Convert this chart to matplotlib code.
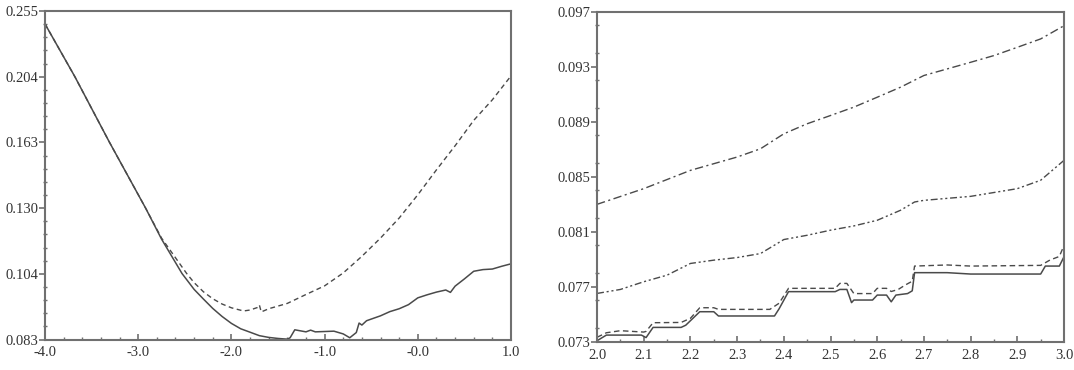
#!/usr/bin/env python3
"""Two-panel line chart: log-scaled error curve (left) and step curves (right)."""
import numpy as np
import matplotlib
matplotlib.use("Agg")
import matplotlib.pyplot as plt
from matplotlib.ticker import FixedLocator, MultipleLocator

plt.rcParams["font.family"] = ["Liberation Serif", "DejaVu Serif"]

# ── Left panel data ─────────────────────────────────────────────────────
left_solid_x = [-4.0, -3.68, -3.31, -2.92, -2.75, -2.53, -2.4, -2.3, -2.2, -2.1, -2.0,
                -1.9, -1.8, -1.7, -1.6, -1.5, -1.4, -1.37, -1.32, -1.2, -1.15, -1.1, -1.0,
                -0.9, -0.8, -0.73, -0.66, -0.63, -0.6, -0.55, -0.5, -0.4, -0.3, -0.2,
                -0.1, 0.0, 0.1, 0.2, 0.3, 0.35, 0.4, 0.5, 0.6, 0.7, 0.8, 0.9, 1.0]
left_solid_y = [0.2440, 0.2038, 0.1630, 0.1300, 0.1170, 0.1040, 0.0985, 0.0953, 0.0923,
                0.0898, 0.0877, 0.0861, 0.0851, 0.0841, 0.0836, 0.0833, 0.0831, 0.0835,
                0.0858, 0.0852, 0.0857, 0.0852, 0.0853, 0.0854, 0.0846, 0.0835, 0.0850,
                0.0878, 0.0872, 0.0885, 0.0890, 0.0900, 0.0913, 0.0922, 0.0935, 0.0957,
                0.0967, 0.0976, 0.0983, 0.0975, 0.0996, 0.1021, 0.1048, 0.1054, 0.1056,
                0.1066, 0.1075]

left_dash_x = [-4.0, -3.68, -3.31, -2.92, -2.75, -2.48, -2.4, -2.3, -2.2, -2.1, -2.0,
               -1.87, -1.8, -1.72, -1.70, -1.68, -1.6, -1.4, -1.2, -1.0, -0.8,
               -0.6, -0.4, -0.2, 0.0, 0.2, 0.4, 0.6, 0.8, 1.0]
left_dash_y = [0.2440, 0.2038, 0.1630, 0.1300, 0.1174, 0.1040, 0.1008, 0.0977, 0.0954,
               0.0937, 0.0925, 0.0915, 0.0918, 0.0926, 0.0934, 0.0912, 0.0922, 0.0939,
               0.0968, 0.0997, 0.1042, 0.1103, 0.1174, 0.1257, 0.1361, 0.1482, 0.1609,
               0.1755, 0.1883, 0.2043]

left_xticks = [-4.0, -3.0, -2.0, -1.0, 0.0, 1.0]
left_xlabels = ["-4.0", "-3.0", "-2.0", "-1.0", "-0.0", "1.0"]
left_ylabels = ["0.083", "0.104", "0.130", "0.163", "0.204", "0.255"]

# ── Right panel data ────────────────────────────────────────────────────
r_top_x = [2.0, 2.1, 2.2, 2.3, 2.35, 2.4, 2.45, 2.5, 2.55, 2.6, 2.65, 2.7, 2.75, 2.8,
           2.85, 2.9, 2.95, 3.0]
r_top_y = [0.08299, 0.08413, 0.08546, 0.08643, 0.08703, 0.08812, 0.08885, 0.08945,
           0.09006, 0.09078, 0.09151, 0.09236, 0.09284, 0.09332, 0.09381, 0.09441,
           0.09502, 0.09598]

r_mid_x = [2.0, 2.05, 2.1, 2.15, 2.2, 2.25, 2.3, 2.35, 2.4, 2.45, 2.5, 2.55, 2.6, 2.65,
           2.68, 2.7, 2.8, 2.9, 2.95, 3.0]
r_mid_y = [0.07651, 0.07680, 0.07736, 0.07784, 0.07869, 0.07893, 0.07912, 0.07941,
           0.08043, 0.08074, 0.08111, 0.08142, 0.08183, 0.08256, 0.08316, 0.08328,
           0.08357, 0.08413, 0.08474, 0.08619]

r_dash_x = [2.0, 2.02, 2.05, 2.1, 2.105, 2.12, 2.18, 2.2, 2.22, 2.25, 2.26, 2.37, 2.39,
            2.41, 2.51, 2.52, 2.535, 2.55, 2.59, 2.6, 2.62, 2.63, 2.645, 2.66, 2.675,
            2.68, 2.75, 2.8, 2.95, 2.97, 2.99, 3.0]
r_dash_y = [0.07332, 0.07365, 0.07380, 0.07370, 0.07375, 0.07438, 0.07440, 0.07470,
            0.07547, 0.07547, 0.07535, 0.07535, 0.07580, 0.07688, 0.07688, 0.07724,
            0.07724, 0.07650, 0.07650, 0.07688, 0.07688, 0.07665, 0.07680, 0.07712,
            0.07740, 0.07850, 0.07858, 0.07850, 0.07855, 0.07894, 0.07920, 0.08000]

r_solid_x = [2.0, 2.02, 2.095, 2.105, 2.12, 2.18, 2.19, 2.22, 2.25, 2.26, 2.38, 2.39,
             2.41, 2.51, 2.52, 2.535, 2.545, 2.55, 2.59, 2.6, 2.62, 2.63, 2.64, 2.665,
             2.675, 2.68, 2.75, 2.8, 2.95, 2.96, 2.99, 3.0]
r_solid_y = [0.07307, 0.07348, 0.07348, 0.07330, 0.07404, 0.07404, 0.07420, 0.07518,
             0.07518, 0.07487, 0.07487, 0.07540, 0.07664, 0.07664, 0.07680, 0.07680,
             0.07584, 0.07603, 0.07603, 0.07639, 0.07639, 0.07590, 0.07639, 0.07650,
             0.07670, 0.07802, 0.07802, 0.07792, 0.07792, 0.07850, 0.07850, 0.07918]

right_xticks = [2.0, 2.1, 2.2, 2.3, 2.4, 2.5, 2.6, 2.7, 2.8, 2.9, 3.0]
right_yticks = [0.073, 0.077, 0.081, 0.085, 0.089, 0.093, 0.097]

LINE = "#4a4a4a"
SPINE = "#707070"
TEXT = "#333333"
FS = 10.5


def style_axes(ax):
    for sp in ax.spines.values():
        sp.set_color(SPINE)
        sp.set_linewidth(1.5)
    ax.tick_params(axis="x", which="major", direction="in", length=4, width=1.2,
                   color=SPINE, labelsize=FS, labelcolor=TEXT, pad=5)
    ax.tick_params(axis="x", which="minor", direction="in", length=2.5, width=1.0, color=SPINE)
    ax.tick_params(axis="y", which="major", direction="out", length=4, width=1.2,
                   color=SPINE, labelsize=FS, labelcolor=TEXT, pad=1)
    ax.tick_params(axis="y", which="minor", direction="inout", length=2.5, width=1.0, color=SPINE)
    ax.tick_params(top=False, right=False, which="both")


fig = plt.figure(figsize=(10.74, 3.70), dpi=100)

# ── Left ────────────────────────────────────────────────────────────────
ax1 = fig.add_axes([0.0419, 0.0824, 0.4339, 0.8878])
ax1.plot(left_dash_x, left_dash_y, color=LINE, lw=1.0, ls=(0, (3.5, 2.5)))
ax1.plot(left_solid_x, left_solid_y, color=LINE, lw=1.1)
ax1.set_yscale("log")
ylo, yhi = 0.083, 0.255
ax1.set_xlim(-4.0, 1.0)
ax1.set_ylim(ylo, yhi)
ax1.yaxis.set_major_locator(FixedLocator(np.geomspace(ylo, yhi, 6)))
ax1.set_yticklabels(left_ylabels)
ax1.yaxis.set_minor_locator(FixedLocator(np.geomspace(ylo, yhi, 26)))
ax1.yaxis.set_minor_formatter(plt.NullFormatter())
ax1.set_xticks(left_xticks)
ax1.set_xticklabels(left_xlabels)
ax1.xaxis.set_minor_locator(MultipleLocator(0.2))
style_axes(ax1)

# ── Right ───────────────────────────────────────────────────────────────
ax2 = fig.add_axes([0.5559, 0.0765, 0.4348, 0.8919])
ax2.plot(r_top_x, r_top_y, color=LINE, lw=1.0, ls=(0, (6, 2.5, 1.5, 2.5)))
ax2.plot(r_mid_x, r_mid_y, color=LINE, lw=1.0, ls=(0, (5, 2, 1.5, 2, 1.5, 2)))
ax2.plot(r_dash_x, r_dash_y, color=LINE, lw=1.0, ls=(0, (4, 2.5)))
ax2.plot(r_solid_x, r_solid_y, color=LINE, lw=1.1)
ax2.set_xlim(2.0, 3.0)
ax2.set_ylim(0.073, 0.097)
ax2.set_xticks(right_xticks)
ax2.set_xticklabels([f"{v:.1f}" for v in right_xticks])
ax2.set_yticks(right_yticks)
ax2.set_yticklabels([f"{v:.3f}" for v in right_yticks])
ax2.xaxis.set_minor_locator(MultipleLocator(0.05))
ax2.yaxis.set_minor_locator(MultipleLocator(0.002))
style_axes(ax2)

fig.savefig("out.png", dpi=100)
